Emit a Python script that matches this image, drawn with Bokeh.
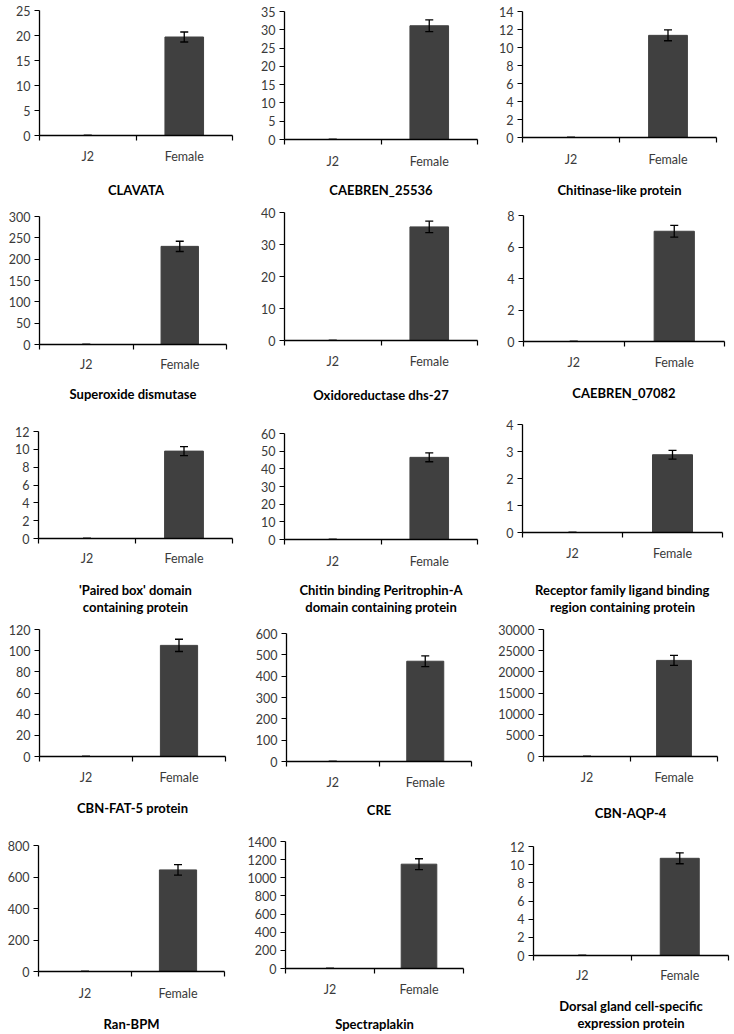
from bokeh.plotting import figure
from bokeh.models import (FixedTicker, Range1d, ColumnDataSource, Whisker, TeeHead,
                          SingleIntervalTicker)
from bokeh.layouts import column, row
from bokeh.embed import file_html
from bokeh.resources import INLINE

# ---------------- data ----------------
categories = ["J2", "Female"]
genes = [
    "CLAVATA", "CAEBREN_25536", "Chitinase-like protein",
    "Superoxide dismutase", "Oxidoreductase dhs-27", "CAEBREN_07082",
    "'Paired box' domain\ncontaining protein",
    "Chitin binding Peritrophin-A\ndomain containing protein",
    "Receptor family ligand binding\nregion containing protein",
    "CBN-FAT-5 protein", "CRE", "CBN-AQP-4",
    "Ran-BPM", "Spectraplakin", "Dorsal gland cell-specific\nexpression protein",
]
j2_values = [0, 0, 0, 0, 0, 0, 0, 0, 0, 0, 0, 0, 0, 0, 0]
j2_errors = [0, 0, 0, 0, 0, 0, 0, 0, 0, 0, 0, 0, 0, 0, 0]
female_values = [19.7, 31.1, 11.35, 230, 35.5, 7.0, 9.8, 46.5, 2.88,
                 105, 470, 22700, 645, 1150, 10.7]
female_errors = [1.0, 1.6, 0.6, 12, 1.8, 0.37, 0.5, 2.5, 0.16,
                 5.8, 25, 1180, 33, 60, 0.6]
y_max = [25, 35, 14, 300, 40, 8, 12, 60, 4, 120, 600, 30000, 800, 1400, 12]
y_step = [5, 5, 2, 50, 10, 2, 2, 10, 1, 20, 100, 5000, 200, 200, 2]

# ---------------- layout (page pixel coordinates) ----------------
row_top = [0, 200, 406, 618, 830]
row_h = [200, 206, 212, 212, 204]
col_left = [0, 244, 488]
col_w = [244, 244, 246]
# frame left, top, right, bottom, tick-label centre y, title first-line centre y
frames = [
    (39.3, 9.5, 231.7, 136.3, 158.0, 189.0),
    (283.7, 11.3, 477.0, 139.0, 162.0, 188.3),
    (521.7, 11.0, 716.0, 137.3, 160.0, 188.0),
    (39.3, 216.0, 225.7, 344.0, 365.0, 392.3),
    (284.3, 212.3, 477.3, 340.0, 362.3, 392.7),
    (522.7, 215.0, 723.7, 341.0, 363.3, 390.7),
    (37.7, 431.3, 231.7, 542.3, 563.0, 592.0),
    (284.3, 433.3, 476.7, 542.7, 566.0, 591.7),
    (522.3, 424.0, 721.7, 534.3, 556.0, 590.7),
    (39.0, 629.3, 225.0, 756.0, 778.3, 806.0),
    (285.7, 633.3, 471.0, 761.0, 782.7, 808.3),
    (543.3, 629.3, 716.7, 755.7, 778.0, 810.7),
    (37.7, 845.0, 224.0, 971.7, 995.0, 1022.5),
    (285.0, 841.0, 463.3, 968.3, 990.7, 1022.0),
    (533.3, 846.0, 728.3, 956.7, 978.0, 1006.0),
]

FONT = "Lato"
BAR = "#404040"

x_centers = [i + 0.5 for i in range(len(categories))]
x_edges = [float(i) for i in range(len(categories) + 1)]

rows = []
for r in range(5):
    figs = []
    for c in range(3):
        k = r * 3 + c
        L, T, R, B, ly, ty = frames[k]
        W, H = col_w[c], row_h[r]
        p = figure(width=W, height=H, output_backend="svg", toolbar_location=None,
                   x_range=Range1d(0, len(categories)), y_range=Range1d(0, y_max[k]),
                   min_border_left=round(L - col_left[c]),
                   min_border_right=round(col_left[c] + W - R),
                   min_border_top=round(T - row_top[r]),
                   min_border_bottom=round(row_top[r] + H - B),
                   background_fill_color="white", border_fill_color="white")
        p.outline_line_color = None
        p.xgrid.visible = False
        p.ygrid.visible = False

        vals = [j2_values[k], female_values[k]]
        errs = [j2_errors[k], female_errors[k]]
        src = ColumnDataSource(dict(
            x=x_centers, top=vals,
            upper=[v + e for v, e in zip(vals, errs)],
            lower=[v - e for v, e in zip(vals, errs)]))
        p.vbar(x="x", top="top", width=0.4, source=src,
               fill_color=BAR, line_color=BAR)
        w = Whisker(source=src, base="x", upper="upper", lower="lower",
                    dimension="height", line_color="black", line_width=1.3,
                    upper_head=TeeHead(size=8, line_color="black", line_width=1.3),
                    lower_head=TeeHead(size=8, line_color="black", line_width=1.3),
                    level="overlay")
        p.add_layout(w)

        s1 = max(0, round(ly - B - 14))
        s2 = max(0, round(ty - B - s1 - 30))

        xa = p.xaxis[0]
        xa.ticker = FixedTicker(ticks=x_centers, minor_ticks=x_edges)
        xa.major_label_overrides = {x: name for x, name in zip(x_centers, categories)}
        xa.major_tick_out = 0
        xa.major_tick_in = 0
        xa.minor_tick_out = 5
        xa.minor_tick_in = 0
        xa.minor_tick_line_color = "black"
        xa.minor_tick_line_width = 1.2
        xa.axis_line_color = "black"
        xa.axis_line_width = 1.3
        xa.major_label_text_font = FONT
        xa.major_label_text_font_size = "12.5px"
        xa.major_label_text_color = "#3a3a3a"
        xa.major_label_standoff = s1
        xa.axis_label = genes[k]
        xa.axis_label_text_font = FONT
        xa.axis_label_text_font_size = "13px"
        xa.axis_label_text_font_style = "bold"
        xa.axis_label_text_color = "black"
        xa.axis_label_text_line_height = 1.1
        xa.axis_label_standoff = s2

        ya = p.yaxis[0]
        ya.ticker = SingleIntervalTicker(interval=y_step[k], num_minor_ticks=0)
        ya.major_tick_out = 5
        ya.major_tick_in = 0
        ya.minor_tick_out = 0
        ya.minor_tick_in = 0
        ya.major_tick_line_color = "black"
        ya.major_tick_line_width = 1.2
        ya.axis_line_color = "black"
        ya.axis_line_width = 1.3
        ya.major_label_text_font = FONT
        ya.major_label_text_font_size = "12.5px"
        ya.major_label_text_color = "#3a3a3a"
        ya.major_label_standoff = 4
        figs.append(column(p, spacing=0))
    rows.append(row(*figs, spacing=0))

layout = column(*rows, spacing=0)
open("out.html", "w").write(file_html(layout, INLINE))
